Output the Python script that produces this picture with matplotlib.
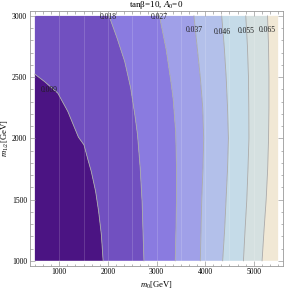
import matplotlib
matplotlib.use("Agg")
import matplotlib.pyplot as plt
from matplotlib.ticker import MultipleLocator

plt.rcParams['font.family'] = ['Liberation Serif', 'DejaVu Serif']
plt.rcParams['mathtext.fontset'] = 'custom'
plt.rcParams['mathtext.rm'] = 'Liberation Serif'
plt.rcParams['mathtext.it'] = 'Liberation Serif:italic'

# contour levels (labels) and boundary curves
levels = ['0.009', '0.018', '0.027', '0.037', '0.046', '0.055', '0.065']

b009_y = [1000, 1212, 1402, 1566, 1729, 1824, 1947, 2010, 2219, 2369, 2464, 2524]
b009_x = [1903, 1867, 1811, 1749, 1660, 1592, 1509, 1395, 1178, 972, 698, 500]

b018_y = [1000, 1212, 1484, 1757, 2029, 2192, 2410, 2627, 2818, 3000]
b018_x = [2742, 2725, 2704, 2665, 2610, 2555, 2470, 2347, 2190, 2025]

b027_y = [1000, 1250, 1500, 1770, 2045, 2314, 2451, 2722, 3000]
b027_x = [3385, 3400, 3410, 3410, 3395, 3344, 3300, 3200, 3060]

m12 = [1000, 1250, 1500, 1750, 2000, 2250, 2500, 2750, 3000]
b037_x = [3900, 3915, 3930, 3955, 3970, 3950, 3900, 3835, 3770]
b046_x = [4360, 4400, 4430, 4460, 4478, 4460, 4432, 4392, 4340]
b055_x = [4787, 4820, 4856, 4880, 4900, 4897, 4890, 4869, 4835]
b065_x = [5170, 5210, 5254, 5285, 5303, 5311, 5311, 5303, 5282]

bounds = [(b009_x, b009_y), (b018_x, b018_y), (b027_x, b027_y),
          (b037_x, m12), (b046_x, m12), (b055_x, m12), (b065_x, m12)]

colors = ['#4b1483', '#7150c0', '#8a7be0', '#a0a0e8',
          '#b3c0ea', '#c5dbe8', '#d5e0e0', '#f1e8d5']

label_x = [800, 2010, 3050, 3783, 4354, 4842, 5270]
label_y = [2396, 2995, 2989, 2886, 2867, 2878, 2888]

x0, x1, y0, y1 = 500, 5500, 1000, 3000

fig = plt.figure(figsize=(2.85, 2.9), dpi=100)
ax = fig.add_axes([30/285, 1 - 265.7/290, 253/285, 254.7/290])

# region below the first level
ax.fill([x0] + b009_x, [y0] + b009_y, color=colors[0], lw=0)
# region between first and second level (touches the left edge)
xs = b009_x + [x0] + b018_x[::-1]
ys = b009_y + [y1] + b018_y[::-1]
ax.fill(xs, ys, color=colors[1], lw=0)
for k in range(2, len(bounds)):
    xa, ya = bounds[k - 1]
    xb, yb = bounds[k]
    ax.fill(list(xa) + list(xb)[::-1], list(ya) + list(yb)[::-1], color=colors[k], lw=0)
xa, ya = bounds[-1]
ax.fill(list(xa) + [x1, x1], list(ya) + [y1, y0], color=colors[-1], lw=0)

# faint mesh lines
ax.vlines(range(1000, 5001, 500), y0, y1, color='white', alpha=0.18, lw=0.6)

for bx, by in bounds:
    ax.plot(bx, by, color='#a8a8a8', lw=0.6)

for lab, lx, ly in zip(levels, label_x, label_y):
    ax.text(lx, ly, lab, fontsize=5.5, ha='center', va='center', color='#202020')

ax.set_xlim(400, 5600)
ax.set_ylim(960, 3040)

ax.xaxis.set_major_locator(MultipleLocator(1000))
ax.xaxis.set_minor_locator(MultipleLocator(1000 / 6))
ax.yaxis.set_major_locator(MultipleLocator(500))
ax.yaxis.set_minor_locator(MultipleLocator(100))
ax.tick_params(which='both', direction='in', top=True, right=True,
               color='#999999', labelsize=5.5, width=0.5, pad=2)
ax.tick_params(which='major', length=3.5)
ax.tick_params(which='minor', length=1.8)
for s in ax.spines.values():
    s.set_color('#999999')
    s.set_linewidth(0.6)

ax.set_title(r'tanβ=10, $A_0$=0', fontsize=6.5, pad=1.5)
ax.set_xlabel(r'$m_0$[GeV]', fontsize=6.2, labelpad=2.5)
ax.set_ylabel(r'$m_{1/2}$[GeV]', fontsize=6.2, labelpad=1)

fig.savefig('out.png', dpi=100)
